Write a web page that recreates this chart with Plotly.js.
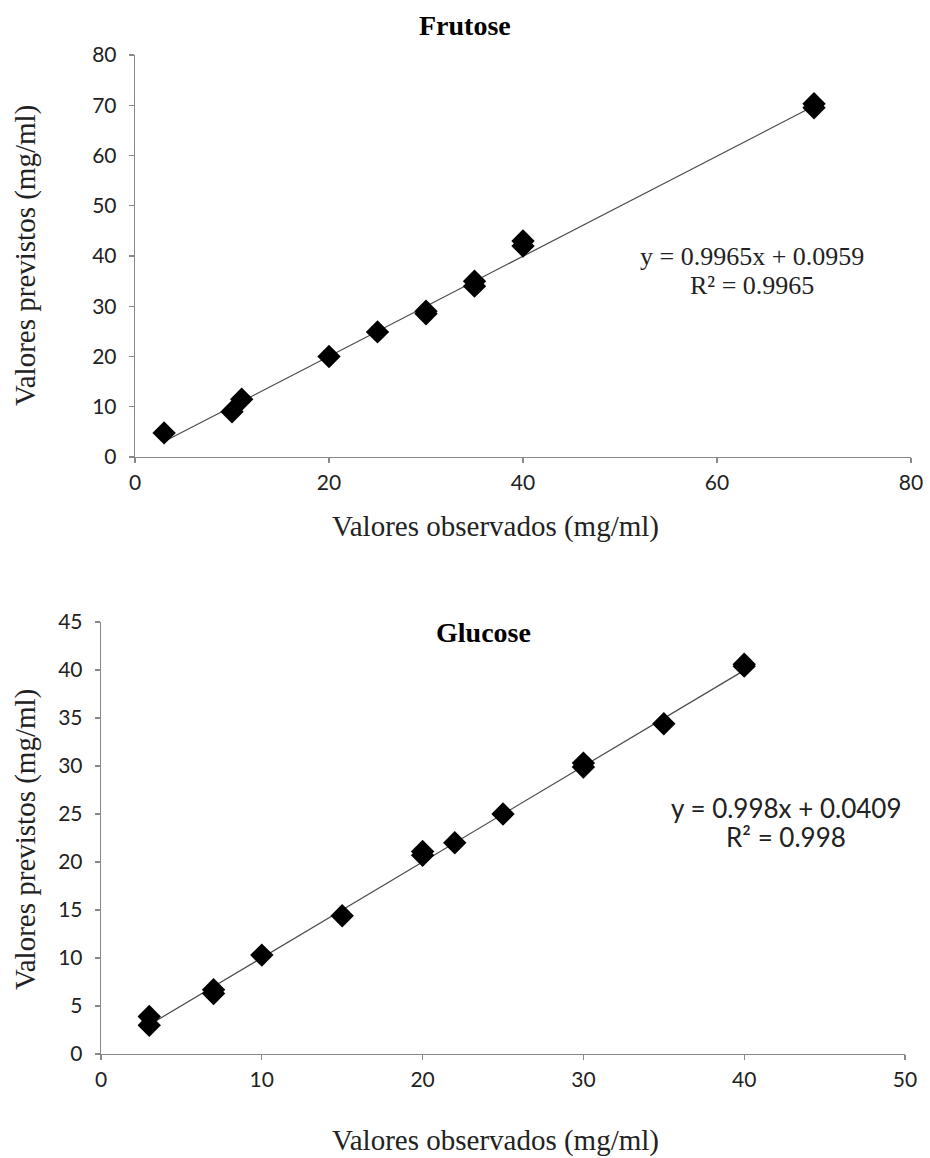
<!DOCTYPE html>
<html>
<head>
<meta charset="utf-8">
<script src="https://cdn.plot.ly/plotly-3.0.1.min.js"></script>
<style>html,body{margin:0;padding:0;background:#fff;}#chart{width:930px;height:1158px;}</style>
</head>
<body>
<div id="chart"></div>
<script>
// Frutose data
const frutoseObs = [3, 10, 11, 20, 25, 30, 30, 35, 35, 40, 40, 70, 70];
const frutosePrev = [4.8, 9, 11.5, 20, 24.9, 28.5, 29, 34, 35, 42, 43, 69.5, 70.3];
const frutoseFit = {slope: 0.9965, intercept: 0.0959, xmin: 3, xmax: 70};
const frutoseEq = ["y = 0.9965x + 0.0959", "R² = 0.9965"];

// Glucose data
const glucoseObs = [3, 3, 7, 7, 10, 15, 20, 20, 22, 25, 30, 30, 35, 40, 40];
const glucosePrev = [3.0, 3.9, 6.3, 6.7, 10.3, 14.4, 20.7, 21.1, 22, 25, 29.9, 30.3, 34.4, 40.4, 40.6];
const glucoseFit = {slope: 0.998, intercept: 0.0409, xmin: 3, xmax: 40};
const glucoseEq = ["y = 0.998x + 0.0409", "R² = 0.998"];

// Axis ticks
const frutoseXTicks = [0, 20, 40, 60, 80];
const frutoseYTicks = [0, 10, 20, 30, 40, 50, 60, 70, 80];
const glucoseXTicks = [0, 10, 20, 30, 40, 50];
const glucoseYTicks = [0, 5, 10, 15, 20, 25, 30, 35, 40, 45];

const W = 930, H = 1158;
function fx(px){return px / W;}
function fy(py){return 1 - py / H;}

const marker = {symbol: 'diamond', size: 18, color: '#000000', line: {width: 0}};
const lineStyle = {color: '#4a4a4a', width: 1.2};

function fitLine(f){
  return {x: [f.xmin, f.xmax], y: [f.slope*f.xmin + f.intercept, f.slope*f.xmax + f.intercept]};
}
const fl1 = fitLine(frutoseFit), fl2 = fitLine(glucoseFit);

const traces = [
  {x: fl1.x, y: fl1.y, mode: 'lines', line: lineStyle, xaxis: 'x', yaxis: 'y', hoverinfo: 'skip'},
  {x: frutoseObs, y: frutosePrev, mode: 'markers', marker: marker, xaxis: 'x', yaxis: 'y'},
  {x: fl2.x, y: fl2.y, mode: 'lines', line: lineStyle, xaxis: 'x2', yaxis: 'y2', hoverinfo: 'skip'},
  {x: glucoseObs, y: glucosePrev, mode: 'markers', marker: marker, xaxis: 'x2', yaxis: 'y2'}
];

const tickFont = {family: 'Lato, sans-serif', size: 21, color: '#222'};
function axis(domain, range, ticks, anchor, standoff){
  return {
    domain: domain, range: range, tickvals: ticks, ticktext: ticks.map(String),
    showgrid: false, zeroline: false, showline: true, linecolor: '#888', linewidth: 1.3,
    ticks: 'outside', ticklen: 5, tickcolor: '#888', tickwidth: 1.3,
    ticklabelstandoff: standoff,
    tickfont: tickFont, anchor: anchor, fixedrange: true
  };
}

const serif = 'Liberation Serif, Times New Roman, serif';
function ann(text, px, py, font, extra){
  return Object.assign({text: text, xref: 'paper', yref: 'paper', x: fx(px), y: fy(py),
    xanchor: 'center', yanchor: 'middle', showarrow: false, font: font}, extra || {});
}
const titleFont = {family: serif, size: 28, color: '#000'};
const axTitleFont = {family: serif, size: 29, color: '#222'};
const eqSerif = {family: serif, size: 26, color: '#222'};
const eqSans = {family: 'Lato, sans-serif', size: 26, color: '#222'};

const layout = {
  width: W, height: H, margin: {l: 0, r: 0, t: 0, b: 0},
  paper_bgcolor: '#fff', plot_bgcolor: '#fff', showlegend: false,
  xaxis: axis([fx(135), fx(911)], [0, 80], frutoseXTicks, 'y', 1),
  yaxis: axis([fy(457), fy(55)], [0, 80], frutoseYTicks, 'x', 8),
  xaxis2: axis([fx(101), fx(905)], [0, 50], glucoseXTicks, 'y2', 1),
  yaxis2: axis([fy(1054), fy(622)], [0, 45], glucoseYTicks, 'x2', 8),
  annotations: [
    ann('<b>Frutose</b>', 465, 25, titleFont),
    ann('<b>Glucose</b>', 483, 632, titleFont),
    ann('Valores observados (mg/ml)', 495, 526, axTitleFont),
    ann('Valores observados (mg/ml)', 495, 1140, axTitleFont),
    ann('Valores previstos (mg/ml)', 25, 256, axTitleFont, {textangle: -90}),
    ann('Valores previstos (mg/ml)', 25, 840, axTitleFont, {textangle: -90}),
    ann(frutoseEq[0], 752, 257, eqSerif),
    ann(frutoseEq[1], 752, 285, eqSerif),
    ann(glucoseEq[0], 786, 808, eqSans),
    ann(glucoseEq[1], 786, 837, eqSans)
  ]
};

Plotly.newPlot('chart', traces, layout, {displayModeBar: false, staticPlot: true});
</script>
</body>
</html>
